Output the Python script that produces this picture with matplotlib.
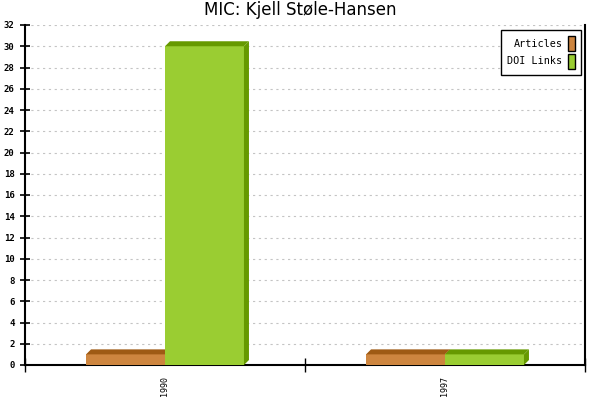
import matplotlib
matplotlib.use("Agg")
import matplotlib.pyplot as plt
from matplotlib.patches import Polygon, Patch

# data
years = ["1990", "1997"]
articles = [1, 1]
doi_links = [30, 1]
series_names = ["Articles", "DOI Links"]

front_colors = ["#cd853f", "#9acd32"]
dark_colors = ["#9e5a14", "#669900"]

plt.rcParams["lines.scale_dashes"] = False

fig = plt.figure(figsize=(6, 4), dpi=100)
ax = fig.add_axes([25 / 600, 35 / 400, 560 / 600, 340 / 400])

ax.set_xlim(-0.5, 1.5)
ax.set_ylim(0, 32)

# pixel sized 3d depth converted to data units
px_x = 560 / 2.0
px_y = 340 / 32.0
dx = 5 / px_x
dy = 5 / px_y
width = 0.282

for s, vals in enumerate([articles, doi_links]):
    for i, v in enumerate(vals):
        x0 = i - width + s * width
        x1 = x0 + width
        ax.bar(x0, v, width=width, align="edge", color=front_colors[s],
               linewidth=0, zorder=3)
        top = Polygon([(x0, v), (x0 + dx, v + dy), (x1 + dx, v + dy), (x1, v)],
                      closed=True, facecolor=dark_colors[s], linewidth=0, zorder=3)
        side = Polygon([(x1, 0), (x1 + dx, dy), (x1 + dx, v + dy), (x1, v)],
                       closed=True, facecolor=dark_colors[s], linewidth=0, zorder=3)
        ax.add_patch(top)
        ax.add_patch(side)

# grid
ax.set_yticks(range(0, 33, 2))
ax.yaxis.grid(True, color="#c4c4c4", linestyle=(0, (1.6, 2.6)), linewidth=0.8,
              zorder=0)
ax.set_axisbelow(True)

mono = "DejaVu Sans Mono"
ax.set_yticklabels([str(t) for t in range(0, 33, 2)], fontsize=6.5,
                   family=mono, fontweight="bold")
ax.tick_params(axis="y", direction="inout", length=7, width=1.2, pad=4)

ax.set_xticks([0, 1])
ax.set_xticklabels(years, rotation=90, fontsize=6, family=mono)
ax.tick_params(axis="x", which="major", length=0, pad=8)
ax.set_xticks([-0.5, 0.5, 1.5], minor=True)
ax.tick_params(axis="x", which="minor", direction="inout", length=10, width=1)

ax.spines["top"].set_visible(False)
for sp in ["left", "bottom", "right"]:
    ax.spines[sp].set_linewidth(1.5)
    ax.spines[sp].set_color("black")

handles = [Patch(facecolor=front_colors[k], edgecolor="black", linewidth=1)
           for k in range(2)]
leg = ax.legend(handles, series_names, loc="upper right",
                bbox_to_anchor=(0.993, 0.985), borderaxespad=0,
                markerfirst=False,
                prop={"family": mono, "size": 7.3}, fancybox=False,
                framealpha=1, edgecolor="black", handlelength=0.65,
                handleheight=1.9, handletextpad=0.6, borderpad=0.6,
                labelspacing=0.25)
leg.get_frame().set_linewidth(1)
leg.set_zorder(5)

fig.text(0.5, 0.975, "MIC: Kjell St\u00f8le-Hansen", ha="center", va="center",
         fontsize=12)

fig.savefig("out.png", dpi=100, facecolor="white")
